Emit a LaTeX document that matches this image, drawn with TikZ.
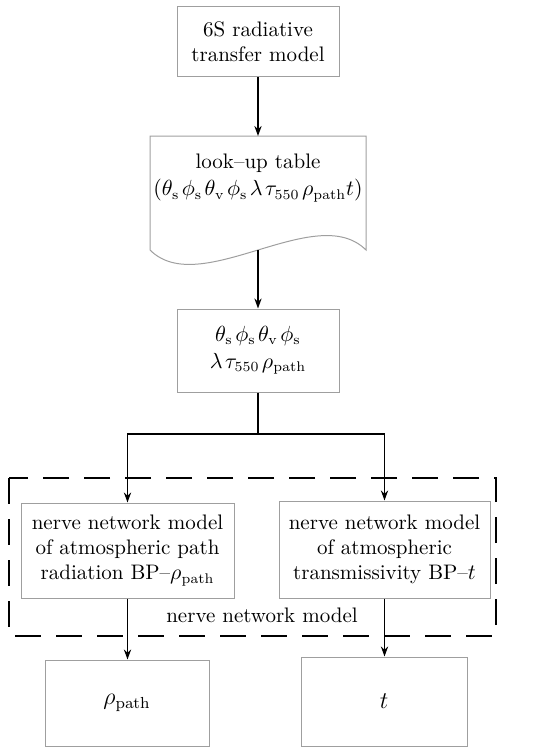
\documentclass[tikz,border=0pt]{standalone}
\usepackage{amsmath}
\usetikzlibrary{arrows.meta}
\tikzset{
  box/.style={draw=gray!75,line width=0.5pt,align=center,inner sep=0pt,font=\fontsize{10.5}{12.5}\selectfont},
  flow/.style={line width=0.8pt,-{Stealth[length=5pt,width=3.6pt]}},
  nnframe/.style={line width=1pt,dash pattern=on 13pt off 7.5pt},
}
\newcommand{\rs}[1]{_{\mathrm{#1}}}
\newcommand{\vsep}{\mkern2mu}

\begin{document}
\begin{tikzpicture}[x=0.5pt,y=-0.5pt]
  \useasboundingbox (0,0) rectangle (555,749);
  % radiative transfer model
  \node[box,minimum width=81pt,minimum height=35pt] (sixs) at (258,42) {6S radiative\\transfer model};
  % look-up table, document shape
  \draw[gray!75,line width=0.5pt] (150,136) -- (366,136) -- (366,250)
    .. controls (316,200) and (200,300) .. (150,250) -- cycle;
  \node[box,draw=none] (lut) at (258,178) {look--up table\\[1pt]
    $(\theta\rs s\vsep\phi\rs s\vsep\theta\rs v\vsep\phi\rs s\vsep\lambda\vsep\tau_{550}\vsep\rho\rs{path}t)$};
  \coordinate (luttop) at (258,136);
  \coordinate (lutbot) at (258,250);
  % parameters
  \node[box,minimum width=81pt,minimum height=41.5pt] (par) at (258,350.5)
    {$\theta\rs s\vsep\phi\rs s\vsep\theta\rs v\vsep\phi\rs s$\\[1pt] $\lambda\vsep\tau_{550}\vsep\rho\rs{path}$};
  \coordinate (split) at (258,434);
  % nerve network models
  \node[box,minimum width=106.5pt,minimum height=47.5pt] (pathnn) at (127.5,550.5)
    {nerve network model\\of atmospheric path\\radiation BP--$\rho\rs{path}$};
  \node[box,minimum width=105.5pt,minimum height=48.5pt] (transnn) at (384.5,549.5)
    {nerve network model\\of atmospheric\\transmissivity BP--$t$};
  \draw[nnframe] (9,478) rectangle (496,636);
  \node[font=\fontsize{10.5}{12.5}\selectfont] (nnlabel) at (262,615) {nerve network model};
  % outputs
  \node[box,minimum width=82pt,minimum height=43pt,font=\fontsize{11.5}{13}\selectfont] (rho) at (127,703) {$\rho\rs{path}$};
  \node[box,minimum width=83pt,minimum height=44.5pt,font=\fontsize{11.5}{13}\selectfont] (tout) at (384,701.5) {$t$};

  \draw[flow] (sixs.south) -- (luttop);
  \draw[flow] (lutbot) -- (par.north);
  \draw[flow] (par.south) -- (split) -| (pathnn.north);
  \draw[flow] (split) -| (transnn.north);
  \draw[flow] (pathnn.south) -- (pathnn.south |- rho.north);
  \draw[flow] (transnn.south) -- (transnn.south |- tout.north);
\end{tikzpicture}
\end{document}
